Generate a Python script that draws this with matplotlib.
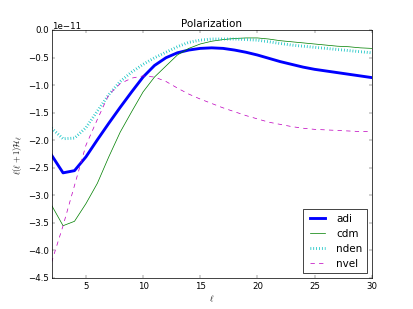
import numpy as np
import matplotlib

matplotlib.use("Agg")
from matplotlib import pyplot as plt

plt.style.use("classic")

# multipoles
ell = np.arange(2, 31)

# values in units of 1e-11
adi = [-2.27, -2.59, -2.55, -2.30, -1.99, -1.69, -1.40, -1.12, -0.85, -0.64,
       -0.50, -0.41, -0.36, -0.33, -0.32, -0.33, -0.36, -0.40, -0.45, -0.51,
       -0.57, -0.62, -0.67, -0.71, -0.74, -0.77, -0.80, -0.83, -0.86]
cdm = [-3.18, -3.55, -3.47, -3.15, -2.78, -2.30, -1.85, -1.48, -1.12, -0.85,
       -0.65, -0.45, -0.33, -0.25, -0.20, -0.17, -0.15, -0.14, -0.14, -0.16,
       -0.19, -0.21, -0.23, -0.25, -0.27, -0.29, -0.30, -0.32, -0.33]
nden = [-1.78, -1.97, -1.96, -1.77, -1.47, -1.17, -0.93, -0.76, -0.62, -0.50,
        -0.40, -0.30, -0.22, -0.18, -0.16, -0.16, -0.16, -0.17, -0.18, -0.21,
        -0.24, -0.27, -0.29, -0.31, -0.33, -0.35, -0.37, -0.39, -0.41]
nvel = [-4.21, -3.55, -2.82, -2.09, -1.62, -1.17, -0.97, -0.87, -0.83, -0.85,
        -0.93, -1.05, -1.16, -1.25, -1.33, -1.41, -1.48, -1.55, -1.61, -1.67,
        -1.71, -1.75, -1.78, -1.80, -1.81, -1.82, -1.83, -1.84, -1.84]

scale = 1e-11

fig = plt.figure(figsize=(8, 6), dpi=413 / 8)
fig.patch.set_facecolor("white")
ax = fig.add_subplot(111)

ax.plot(ell, np.array(adi) * scale, "b-", lw=4, label="adi")
ax.plot(ell, np.array(cdm) * scale, "g-", lw=1, label="cdm")
ax.plot(ell, np.array(nden) * scale, "c:", lw=4, label="nden")
ax.plot(ell, np.array(nvel) * scale, "m--", lw=1, label="nvel")

ax.set_xlim(2, 30)
ax.set_ylim(-4.5e-11, 0)
ax.set_yticks(np.arange(-4.5, 0.01, 0.5) * scale)
ax.set_title("Polarization")
ax.set_xlabel(r"$\ell$")
ax.set_ylabel(r"$\ell(\ell+1)\mathcal{H}_\ell$")
ax.legend(loc="lower right")

fig.savefig("out.png", dpi=413 / 8, facecolor="white")
plt.close(fig)
